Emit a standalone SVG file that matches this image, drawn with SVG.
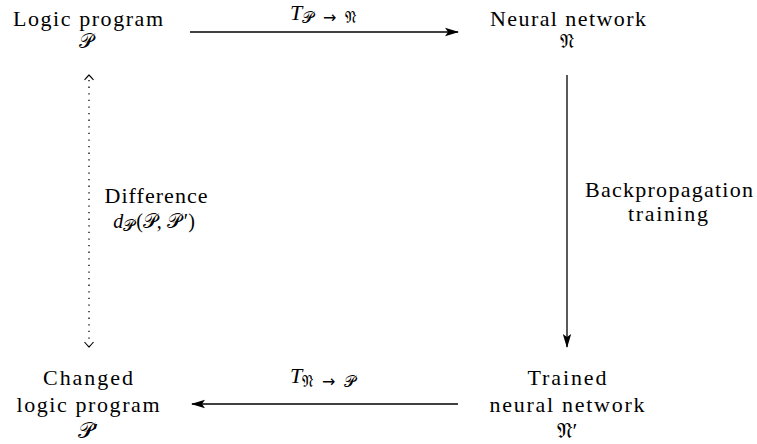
<svg xmlns="http://www.w3.org/2000/svg" width="757" height="444" viewBox="0 0 757 444" font-family="'Liberation Serif', 'Times New Roman', 'DejaVu Serif', serif">
<style>
text{font-size:22px;fill:#000;text-anchor:middle}
.i{font-style:italic}
.sub{font-size:16px}
.mt{font-size:20px}
.dl{font-size:20px}
.ln{stroke:#000;stroke-width:1.3;fill:none}
.dot{stroke:#000;stroke-width:1.3;fill:none;stroke-dasharray:1.3 5.3}
.ch{stroke:#000;stroke-width:1.1;fill:none}
</style>
<defs>
<marker id="ah" viewBox="0 0 14 10" refX="13" refY="5" markerWidth="14" markerHeight="10" markerUnits="userSpaceOnUse" orient="auto">
<path d="M0,0.8 L14,5 L0,9.2 L3,5 Z" fill="#000"/>
</marker>
</defs>
<g id="connectors">
<line class="ln" x1="190" y1="32" x2="458" y2="32" marker-end="url(#ah)"/>
<text x="323" y="20"><tspan class="i">T</tspan><tspan class="sub" font-family="'DejaVu Sans', serif" dy="3" textLength="54">𝒫 → 𝔑</tspan></text>
<line class="ln" x1="567" y1="75" x2="567" y2="347" marker-end="url(#ah)"/>
<text x="669" y="197" textLength="168">Backpropagation</text>
<text x="668" y="221" textLength="80">training</text>
<line class="ln" x1="458" y1="404" x2="192" y2="404" marker-end="url(#ah)"/>
<text x="323" y="383"><tspan class="i">T</tspan><tspan class="sub" font-family="'DejaVu Sans', serif" dy="4" textLength="54">𝔑 → 𝒫</tspan></text>
<line class="dot" x1="89" y1="80" x2="89" y2="342"/>
<path class="ch" d="M84.5,80 Q87,77 89,75 Q91,77 93.5,80"/>
<path class="ch" d="M84.5,342 Q87,345 89,347 Q91,345 93.5,342"/>
<text x="156" y="203" textLength="103">Difference</text>
<text x="154" y="228" class="dl"><tspan class="i">d</tspan><tspan class="sub" font-family="'DejaVu Sans', serif" dy="3">𝒫</tspan><tspan dy="-3" dx="1">(</tspan><tspan font-family="'DejaVu Sans', serif">𝒫</tspan><tspan>, </tspan><tspan font-family="'DejaVu Sans', serif">𝒫</tspan><tspan dx="3">′</tspan><tspan>)</tspan></text>
</g>
<g id="node-logic-program">
<text x="88" y="26" textLength="150">Logic program</text>
<text x="86" y="48" class="mt" font-family="'DejaVu Sans', serif">𝒫</text>
</g>
<g id="node-neural-network">
<text x="568" y="26" textLength="156">Neural network</text>
<text x="567" y="48" class="mt" font-family="'DejaVu Sans', serif">𝔑</text>
</g>
<g id="node-trained">
<text x="567" y="385" textLength="79">Trained</text>
<text x="567" y="412" textLength="155">neural network</text>
<text x="567" y="438"><tspan font-family="'DejaVu Sans', serif">𝔑</tspan>′</text>
</g>
<g id="node-changed">
<text x="88" y="385" textLength="90">Changed</text>
<text x="88" y="412" textLength="143">logic program</text>
<text x="88" y="438"><tspan font-family="'DejaVu Sans', serif">𝒫</tspan>′</text>
</g>
</svg>
